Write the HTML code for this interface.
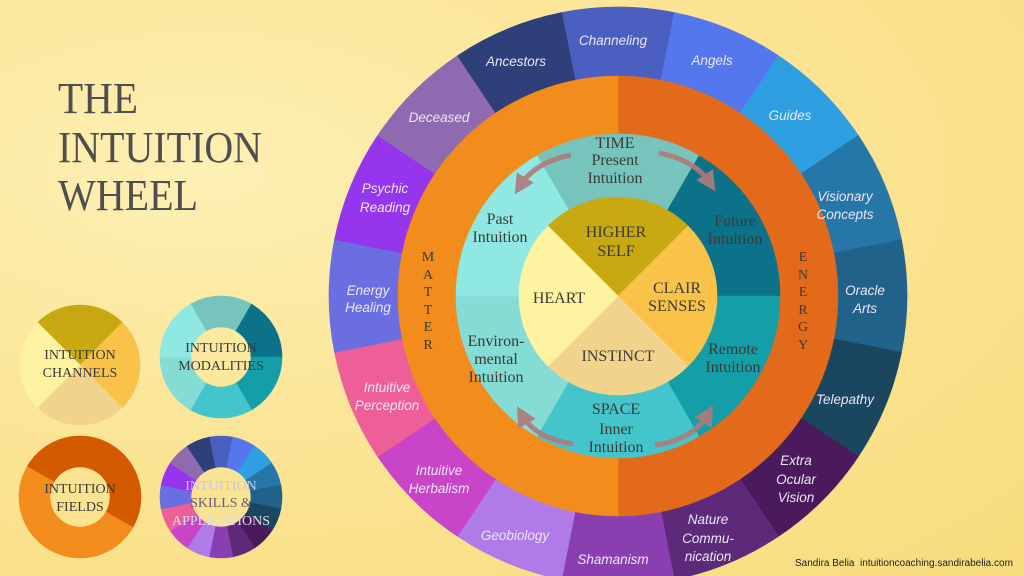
<!DOCTYPE html>
<html><head><meta charset="utf-8"><style>
html,body{margin:0;padding:0;width:1024px;height:576px;overflow:hidden}
body{background:radial-gradient(ellipse at 20% 30%,#fdf0b4 0%,#fbe597 45%,#f8dc7c 100%)}
svg{display:block}
.o{font-family:"Liberation Sans",sans-serif;font-style:italic;font-size:13.5px;fill:#ece6f6;text-anchor:middle}
.s{font-family:"Liberation Serif",serif;font-size:16px;fill:#3c3a36;text-anchor:middle}
.t{font-family:"Liberation Serif",serif;font-size:44px;fill:#4e4e4e}
.m{font-family:"Liberation Serif",serif;font-size:14px;fill:#3c3a36;text-anchor:middle}
</style></head><body>
<svg id="sv" width="1024" height="576" viewBox="0 0 1024 576" xmlns="http://www.w3.org/2000/svg">
<defs><marker id="ah" markerWidth="4" markerHeight="4" refX="2" refY="2" orient="auto"><path d="M0,0 L4,2 L0,4 Z" fill="#b07a7a"/></marker></defs>
<g id="shapes"></g>
<g fill="none" stroke="#b07a7a" stroke-width="5" opacity="0.9" marker-end="url(#ah)">
<path d="M571,155 Q535,162 520,186"/>
<path d="M659,153 Q695,160 710,183"/>
<path d="M573,444 Q535,438 522,415"/>
<path d="M655,445 Q693,440 708,414"/>
</g>
<text class="t" x="58" y="113" textLength="80" lengthAdjust="spacingAndGlyphs">THE</text>
<text class="t" x="58" y="162" textLength="204" lengthAdjust="spacingAndGlyphs">INTUITION</text>
<text class="t" x="58" y="210" textLength="140" lengthAdjust="spacingAndGlyphs">WHEEL</text>

<text class="o" x="613" y="45">Channeling</text>
<text class="o" x="516" y="66">Ancestors</text>
<text class="o" x="712" y="65">Angels</text>
<text class="o" x="439" y="122">Deceased</text>
<text class="o" x="790" y="120">Guides</text>
<text class="o" x="385" y="193">Psychic</text><text class="o" x="385" y="212">Reading</text>
<text class="o" x="845" y="201">Visionary</text><text class="o" x="845" y="219">Concepts</text>
<text class="o" x="368" y="295">Energy</text><text class="o" x="368" y="312">Healing</text>
<text class="o" x="865" y="295">Oracle</text><text class="o" x="865" y="313">Arts</text>
<text class="o" x="387" y="392">Intuitive</text><text class="o" x="387" y="410">Perception</text>
<text class="o" x="845" y="404">Telepathy</text>
<text class="o" x="439" y="475">Intuitive</text><text class="o" x="439" y="493">Herbalism</text>
<text class="o" x="796" y="465">Extra</text><text class="o" x="796" y="484">Ocular</text><text class="o" x="796" y="502">Vision</text>
<text class="o" x="515" y="540">Geobiology</text>
<text class="o" x="613" y="564">Shamanism</text>
<text class="o" x="708" y="524">Nature</text><text class="o" x="708" y="543">Commu-</text><text class="o" x="708" y="561">nication</text>

<text class="s" x="615" y="148">TIME</text><text class="s" x="615" y="165">Present</text><text class="s" x="615" y="183">Intuition</text>
<text class="s" x="500" y="224">Past</text><text class="s" x="500" y="242">Intuition</text>
<text class="s" x="735" y="226">Future</text><text class="s" x="735" y="244">Intuition</text>
<text class="s" x="496" y="346">Environ-</text><text class="s" x="496" y="364">mental</text><text class="s" x="496" y="382">Intuition</text>
<text class="s" x="733" y="354">Remote</text><text class="s" x="733" y="372">Intuition</text>
<text class="s" x="616" y="414">SPACE</text><text class="s" x="616" y="434">Inner</text><text class="s" x="616" y="452">Intuition</text>
<text class="s" x="616" y="237">HIGHER</text><text class="s" x="616" y="256">SELF</text>
<text class="s" x="559" y="303">HEART</text>
<text class="s" x="677" y="293">CLAIR</text><text class="s" x="677" y="311">SENSES</text>
<text class="s" x="618" y="361">INSTINCT</text>
<g class="m"><text class="m" x="428" y="261">M</text><text class="m" x="428" y="279">A</text><text class="m" x="428" y="296">T</text><text class="m" x="428" y="314">T</text><text class="m" x="428" y="331">E</text><text class="m" x="428" y="349">R</text>
<text class="m" x="803" y="261">E</text><text class="m" x="803" y="279">N</text><text class="m" x="803" y="296">E</text><text class="m" x="803" y="314">R</text><text class="m" x="803" y="331">G</text><text class="m" x="803" y="349">Y</text></g>

<text class="m" x="80" y="359" style="font-size:14px">INTUITION</text><text class="m" x="80" y="377" style="font-size:14px">CHANNELS</text>
<text class="m" x="221" y="352" style="font-size:14px">INTUITION</text><text class="m" x="221" y="370" style="font-size:14px">MODALITIES</text>
<text class="m" x="80" y="493" style="font-size:14px">INTUITION</text><text class="m" x="80" y="511" style="font-size:14px">FIELDS</text>
<text class="m" x="221" y="490" style="font-size:14px;fill:#c9c6e6">INTUITION</text><text class="m" x="221" y="507" style="font-size:14px;fill:#6a5b7a">SKILLS &amp;</text><text class="m" x="221" y="525" style="font-size:14px;fill:#e0dcf0">APPLICATIONS</text>
<text x="795" y="566" style="font-family:'Liberation Sans',sans-serif;font-size:10px;fill:#222">Sandira Belia&#160; intuitioncoaching.sandirabelia.com</text>
</svg>
<script>
var g=document.getElementById('shapes'),NS='http://www.w3.org/2000/svg';
function sec(cx,cy,r0,r1,a0,a1,c){var d=Math.PI/180,A=a0*d,B=a1*d,l=(a1-a0)>180?1:0;
var p='M'+(cx+r1*Math.cos(A))+','+(cy+r1*Math.sin(A))+' A'+r1+','+r1+' 0 '+l+' 1 '+(cx+r1*Math.cos(B))+','+(cy+r1*Math.sin(B));
if(r0>0)p+=' L'+(cx+r0*Math.cos(B))+','+(cy+r0*Math.sin(B))+' A'+r0+','+r0+' 0 '+l+' 0 '+(cx+r0*Math.cos(A))+','+(cy+r0*Math.sin(A))+' Z';
else p+=' L'+cx+','+cy+' Z';
var e=document.createElementNS(NS,'path');e.setAttribute('d',p);e.setAttribute('fill',c);e.setAttribute('stroke',c);e.setAttribute('stroke-width','0.6');g.appendChild(e);}
var outer=['#4a5fc0','#5577ee','#2e9fe0','#2677a8','#21628a','#1b4660','#4a1a5c','#5c2a78','#8a3fb0','#b07ae8','#c845c8','#ee5f98','#6a6ee0','#9535ee','#8e6bb0','#2e3f7a'];
var teal=['#77c4bd','#0b7289','#139ea8','#44c5cb','#84dcd5','#90e8e2'];
var core=['#c9a912','#f9c34a','#f2d38b','#fdf3a0'];
var cx=618,cy=296;
outer.forEach(function(c,i){var a=-90+22.5*i;sec(cx,cy,220,289,a-11.25,a+11.25,c)});
sec(cx,cy,162,220,-90,90,'#e36a1a');sec(cx,cy,162,220,90,270,'#f28c1c');
teal.forEach(function(c,i){sec(cx,cy,99,162,-120+60*i,-60+60*i,c)});
core.forEach(function(c,i){sec(cx,cy,0,99,-135+90*i,-45+90*i,c)});
core.forEach(function(c,i){sec(80,365,0,60,-135+90*i,-45+90*i,c)});
teal.forEach(function(c,i){sec(221,357,30,61,-120+60*i,-60+60*i,c)});
sec(80,497,30,61,-150,30,'#d45a00');sec(80,497,30,61,30,210,'#f28c1c');
outer.forEach(function(c,i){var a=-90+22.5*i;sec(221,497,30,61,a-11.25,a+11.25,c)});
</script>
</body></html>
